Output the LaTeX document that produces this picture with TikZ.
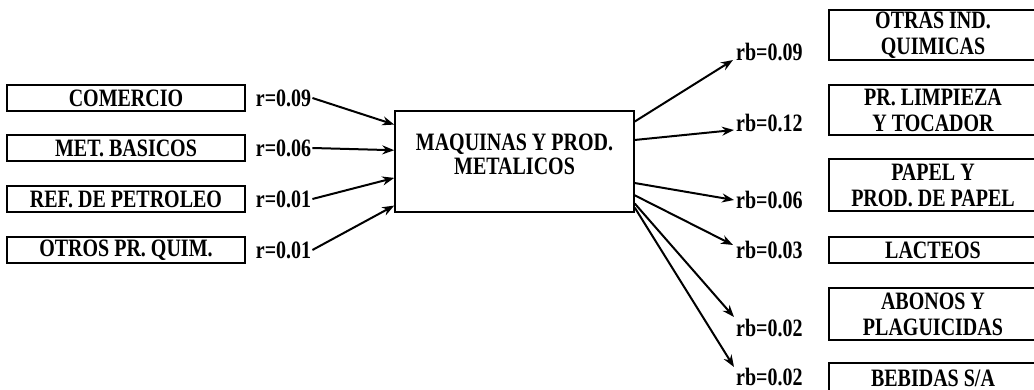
\documentclass[tikz,border=0pt]{standalone}
\usepackage{fontspec}
\setmainfont{Liberation Serif}[FakeStretch=0.8]
\usetikzlibrary{arrows.meta,positioning,calc}

\tikzset{
  srcbox/.style={draw,line width=1.5pt,minimum width=238pt,minimum height=26pt,
    inner sep=0pt,font=\fontsize{25}{26}\selectfont\bfseries},
  dstbox/.style={draw,line width=1.5pt,minimum width=208pt,inner sep=0pt,
    align=center,font=\fontsize{25}{26}\selectfont\bfseries},
  hubbox/.style={draw,line width=1.5pt,minimum width=239pt,minimum height=101pt,
    inner sep=0pt,align=center,text depth=14pt,font=\fontsize{25}{24}\selectfont\bfseries},
  coef/.style={inner sep=1pt,font=\fontsize{25}{26}\selectfont\bfseries},
  flow/.style={line width=2pt,-{Stealth[length=12pt,width=9pt]}}
}

\begin{document}
\begin{tikzpicture}[x=1pt,y=-1pt]
  \useasboundingbox (0,0) rectangle (1034,390);

  % sectores que venden
  \node[srcbox] (comercio) at (126,98) {COMERCIO};
  \node[srcbox] (metbas) at (126,148) {MET. BASICOS};
  \node[srcbox] (refpet) at (126,199) {REF. DE PETROLEO};
  \node[srcbox] (otrquim) at (126,250) {OTROS PR. QUIM.};

  \node[coef,right=9pt of comercio] (rcom) {r=0.09};
  \node[coef,right=9pt of metbas] (rmet) {r=0.06};
  \node[coef,right=9pt of refpet] (rref) {r=0.01};
  \node[coef,right=9pt of otrquim] (rotr) {r=0.01};

  % sector central
  \node[hubbox] (hub) at (514.5,161.5) {MAQUINAS Y PROD.\\METALICOS};

  \draw[flow] (rcom.east) -- ($(hub.north west)!.14!(hub.south west)$);
  \draw[flow] (rmet.east) -- ($(hub.north west)!.39!(hub.south west)$);
  \draw[flow] (rref.east) -- ($(hub.north west)!.66!(hub.south west)$);
  \draw[flow] (rotr.east) -- ($(hub.north west)!.93!(hub.south west)$);

  % sectores que compran
  \node[dstbox,minimum height=50pt] (otrind) at (933,35) {OTRAS IND.\\QUIMICAS};
  \node[dstbox,minimum height=50pt] (limp) at (933,110) {PR. LIMPIEZA\\Y TOCADOR};
  \node[dstbox,minimum height=52pt] (papel) at (933,185) {PAPEL Y\\PROD. DE PAPEL};
  \node[dstbox,minimum height=26pt] (lact) at (933,250) {LACTEOS};
  \node[dstbox,minimum height=52pt] (abon) at (933,314) {ABONOS Y\\PLAGUICIDAS};
  \node[dstbox,minimum height=30pt] (bebid) at (933,378) {BEBIDAS S/A};

  \node[coef,anchor=west] (rb1) at (735,52) {rb=0.09};
  \node[coef,anchor=west] (rb2) at (735,123) {rb=0.12};
  \node[coef,anchor=west] (rb3) at (735,200) {rb=0.06};
  \node[coef,anchor=west] (rb4) at (735,250) {rb=0.03};
  \node[coef,anchor=west] (rb5) at (735,328) {rb=0.02};
  \node[coef,anchor=west] (rb6) at (735,377) {rb=0.02};

  \draw[flow] ($(hub.north east)!.11!(hub.south east)$) -- ($(rb1.west)+(-2,8)$);
  \draw[flow] ($(hub.north east)!.29!(hub.south east)$) -- ($(rb2.west)+(-1,7)$);
  \draw[flow] ($(hub.north east)!.71!(hub.south east)$) -- ($(rb3.west)+(-1,0)$);
  \draw[flow] ($(hub.north east)!.83!(hub.south east)$) -- ($(rb4.west)+(-2,-5)$);
  \draw[flow] ($(hub.north east)!.91!(hub.south east)$) -- ($(rb5.west)+(-1,-11)$);
  \draw[flow] ($(hub.north east)!.95!(hub.south east)$) -- ($(rb6.west)+(-1,-10)$);
\end{tikzpicture}
\end{document}
